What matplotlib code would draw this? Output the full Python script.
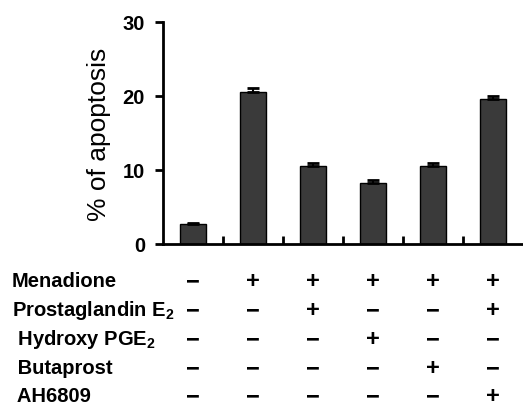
import numpy as np
import matplotlib
matplotlib.use('Agg')
import matplotlib.pyplot as plt
import matplotlib.transforms as mtransforms

plt.rcParams['font.family'] = ['Liberation Sans', 'DejaVu Sans']
plt.rcParams['mathtext.fontset'] = 'custom'
plt.rcParams['mathtext.rm'] = 'Liberation Sans:bold'
plt.rcParams['mathtext.it'] = 'Liberation Sans:bold'

# data
values = [2.7, 20.5, 10.6, 8.2, 10.6, 19.6]
errors = [0.1, 0.6, 0.4, 0.4, 0.4, 0.4]
row_labels = ['Menadione', 'Prostaglandin E$_2$', ' Hydroxy PGE$_2$', ' Butaprost', ' AH6809']
signs = [
    ['−', '+', '+', '+', '+', '+'],
    ['−', '−', '+', '−', '−', '+'],
    ['−', '−', '−', '+', '−', '−'],
    ['−', '−', '−', '−', '+', '−'],
    ['−', '−', '−', '−', '−', '+'],
]
yticks = [0, 10, 20, 30]

fig = plt.figure(figsize=(5.23, 4.10), dpi=100)
ax = fig.add_axes([163/523, 1-245/410, 360/523, 222/410])

x = np.arange(len(values))
ax.bar(x, values, width=0.43, color='#3a3a3a', edgecolor='black', linewidth=1.0)
ax.errorbar(x, values, yerr=[np.zeros(len(errors)), errors], fmt='none',
            ecolor='black', elinewidth=1.5, capsize=4, capthick=2)

ax.set_xlim(-0.5, 5.5)
ax.set_ylim(0, 30)
ax.set_yticks(yticks)
ax.set_yticklabels([str(t) for t in yticks], fontweight='bold', fontsize=14.5)
ax.set_xticks(x[:-1] + 0.5)
ax.set_xticklabels([])
ax.tick_params(axis='x', direction='in', length=6, width=2)
ax.tick_params(axis='y', direction='out', length=6, width=2, pad=7)
for s in ['top', 'right']:
    ax.spines[s].set_visible(False)
for s in ['left', 'bottom']:
    ax.spines[s].set_linewidth(2)
ax.set_ylabel('% of apoptosis', fontsize=19, labelpad=8)

# treatment table below the axis
trans = mtransforms.blended_transform_factory(ax.transData, fig.transFigure)
row_y = [282, 311, 340, 369, 397]
for i, lab in enumerate(row_labels):
    yy = 1 - row_y[i] / 410
    fig.text(12/523, yy, lab, fontsize=14.5, fontweight='bold', va='center', ha='left')
    for j, s in enumerate(signs[i]):
        ax.text(x[j], yy, s, transform=trans, fontsize=17, fontweight='bold',
                ha='center', va='center', clip_on=False)

fig.savefig('out.png', dpi=100)
